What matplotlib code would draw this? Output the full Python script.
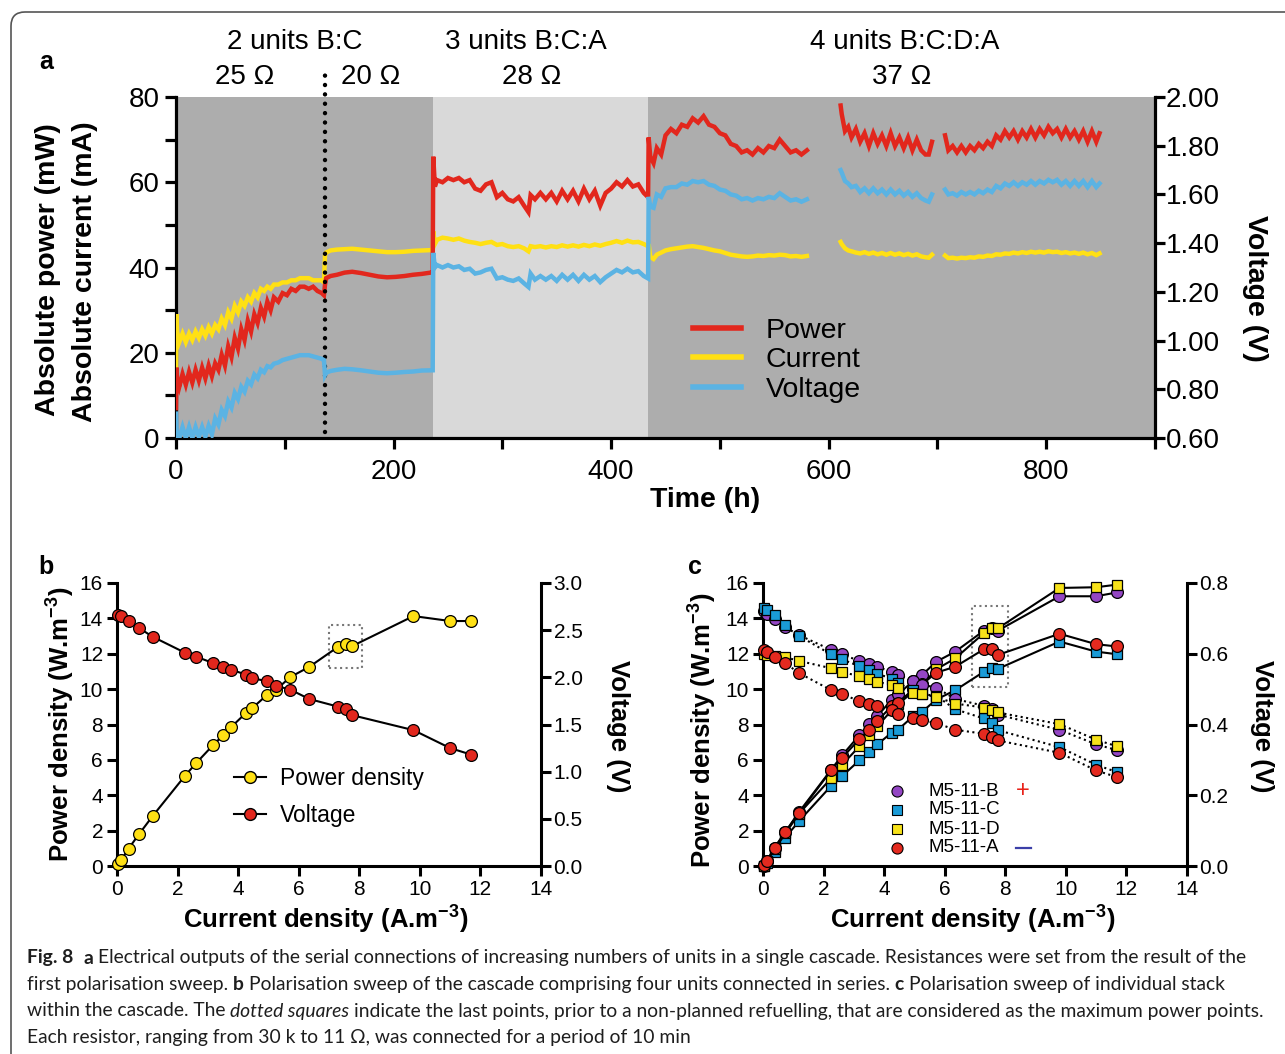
import matplotlib

matplotlib.use("Agg")
import matplotlib.pyplot as plt
import numpy as np
from matplotlib import font_manager
from matplotlib.lines import Line2D
from matplotlib.patches import FancyBboxPatch, Rectangle

# ---------------- panel a: cascade time series ----------------
# time (h); power (mW), current (mA) on left axis; voltage (V) on right axis
t_a = [0, 0.5, 1, 3, 6, 9, 12, 15, 18, 21, 24, 27, 30, 33, 36, 39, 42, 45, 48, 51, 54, 57, 60,
       63, 66, 69, 72, 75, 78, 81, 84, 87, 90, 94, 98, 102, 106, 110, 114, 118, 122, 126, 130, 134, 136]
power_a = [7, 16.5, 14, 12, 15, 12.5, 15.5, 13, 16, 13.5, 16.5, 14, 17, 14.5, 17.5, 16, 19.5, 17, 21.5,
           19, 23.5, 21, 25.5, 23, 27.5, 25, 29, 27, 30.5, 28.5, 32, 30, 33, 32, 34, 33.5, 35, 34.5,
           35.5, 35.5, 35, 35.5, 34.5, 34, 33.5]
current_a = [16, 29, 25, 22.5, 24.5, 22.5, 24.5, 23, 25, 23.5, 25.5, 24, 26, 24.5, 26.5, 25.5, 28, 26.5,
             29.5, 28, 31, 29.5, 32, 31, 33, 32, 34, 33, 35, 34.5, 35.5, 35, 36, 36, 36.5, 36.5, 37, 37,
             37.5, 37.5, 37.5, 37, 37, 37, 36.5]
voltage_a = [0.70, 0.635, 0.60, 0.60, 0.645, 0.60, 0.645, 0.60, 0.645, 0.605, 0.645, 0.605, 0.65, 0.615,
             0.68, 0.655, 0.715, 0.69, 0.75, 0.725, 0.785, 0.76, 0.81, 0.79, 0.835, 0.82, 0.86, 0.845,
             0.88, 0.87, 0.895, 0.89, 0.905, 0.91, 0.92, 0.925, 0.93, 0.935, 0.94, 0.94, 0.94, 0.935,
             0.93, 0.925, 0.92]

t_b = [137, 138, 142, 148, 155, 162, 170, 178, 186, 194, 202, 210, 218, 226, 234]
power_b = [36, 37.5, 38, 38.3, 38.8, 39, 38.7, 38.3, 37.9, 37.7, 37.8, 38, 38.3, 38.5, 38.8]
current_b = [43, 43.5, 44, 44.2, 44.3, 44.4, 44.2, 44, 43.8, 43.6, 43.6, 43.7, 43.9, 44, 44.1]
voltage_b = [0.859, 0.868, 0.875, 0.88, 0.884, 0.882, 0.878, 0.873, 0.868, 0.866, 0.868, 0.871, 0.873,
             0.877, 0.878]

t_c = [236, 236.5, 238, 240, 245, 250, 255, 260, 265, 270, 275, 280, 285, 290, 295, 300, 305, 310, 315,
       320, 324, 326, 330, 335, 340, 345, 350, 355, 360, 365, 370, 375, 380, 385, 390, 395, 400, 405,
       410, 415, 420, 425, 430, 434]
power_c = [38.8, 66, 59, 60.5, 60, 61, 60.5, 61, 60, 60.5, 58.5, 58, 59.5, 60, 56.5, 57.5, 56, 55.5, 56.5,
           54.5, 53, 57, 56, 57.5, 56, 57.5, 55.5, 58, 56, 58, 55.5, 58.5, 56, 58, 54.5, 57.5, 58.5, 60,
           59, 60.5, 59, 59.5, 57.5, 56.5]
current_c = [44.1, 48.5, 45.5, 46.5, 47, 46.8, 46.5, 46.8, 46.3, 46, 45.8, 45.5, 45.8, 46, 45.3, 45.5, 45,
             44.8, 45, 44.5, 43.8, 45, 44.8, 45, 44.7, 45, 44.8, 45.2, 44.9, 45.2, 44.9, 45.3, 45, 45.4,
             45.1, 45.5, 45.8, 46.2, 45.8, 46.3, 45.9, 46, 45.5, 45]
voltage_c = [0.878, 1.36, 1.30, 1.31, 1.30, 1.31, 1.30, 1.305, 1.29, 1.295, 1.275, 1.28, 1.29, 1.295,
             1.255, 1.26, 1.25, 1.245, 1.255, 1.235, 1.22, 1.275, 1.25, 1.265, 1.25, 1.265, 1.245, 1.27,
             1.25, 1.27, 1.245, 1.27, 1.25, 1.265, 1.24, 1.26, 1.275, 1.29, 1.28, 1.295, 1.28, 1.285,
             1.265, 1.255]

t_d = [434.5, 436, 439, 442, 446, 450, 455, 460, 465, 470, 475, 480, 485, 490, 495, 500, 505, 510, 515,
       520, 525, 530, 535, 540, 545, 550, 555, 560, 565, 570, 575, 580]
power_d = [70.5, 66, 64.5, 68, 66.5, 71, 72.5, 71.5, 73.5, 73, 75, 74, 75.5, 73.5, 73, 71.5, 71, 69, 68.5,
           67, 67.5, 66.5, 68, 67, 68.5, 68, 70, 68.5, 67, 67.5, 66.5, 67.5]
current_d = [45.5, 42.5, 42, 43, 43.5, 44, 44.3, 44.5, 44.7, 44.9, 45, 44.8, 44.6, 44.3, 44, 43.8, 43.4,
             43, 42.8, 42.6, 42.5, 42.6, 42.8, 42.7, 42.9, 42.8, 43, 42.9, 42.6, 42.7, 42.5, 42.7]
voltage_d = [1.59, 1.55, 1.545, 1.60, 1.59, 1.625, 1.63, 1.63, 1.645, 1.64, 1.655, 1.65, 1.655, 1.64,
             1.635, 1.62, 1.615, 1.60, 1.595, 1.58, 1.585, 1.575, 1.585, 1.58, 1.59, 1.585, 1.605, 1.59,
             1.575, 1.58, 1.57, 1.58]

t_e = [611, 612, 615, 618, 621, 625, 629, 633, 637, 641, 645, 649, 653, 657, 661, 665, 669, 673, 677,
       681, 685, 689, 692, 695]
power_e = [78, 76, 72, 73, 70.5, 72.5, 69.5, 71.5, 68.5, 71.5, 69, 71, 68.5, 71.5, 68.5, 70.5, 68, 70.5,
           67.5, 70, 67.5, 66.5, 66.5, 69.5]
current_e = [46, 45.5, 44.5, 44, 43.8, 43.5, 43.3, 43.6, 43.2, 43.5, 43.1, 43.4, 43, 43.4, 43, 43.3,
             42.9, 43.2, 42.8, 43.1, 42.6, 42.4, 42.3, 43]
voltage_e = [1.70, 1.69, 1.655, 1.645, 1.63, 1.635, 1.61, 1.625, 1.605, 1.625, 1.605, 1.62, 1.60, 1.62,
             1.60, 1.615, 1.595, 1.61, 1.59, 1.605, 1.585, 1.575, 1.57, 1.60]

t_f = [707, 710, 714, 718, 722, 726, 730, 734, 738, 742, 746, 750, 754, 758, 762, 766, 770, 774, 778,
       782, 786, 790, 794, 798, 802, 806, 810, 814, 818, 822, 826, 830, 834, 838, 842, 846, 849]
power_f = [71, 67.5, 68.5, 67, 68.5, 67, 68.5, 67.5, 69, 68, 69.5, 68.5, 71, 70, 72, 70.5, 72, 70, 72,
           70.5, 72.5, 70.5, 72.5, 71, 73, 71.5, 72.5, 70.5, 72.5, 70.5, 72, 70, 72, 69.5, 72, 69.5, 71.5]
current_f = [42.8, 42.2, 42.3, 42.1, 42.3, 42.2, 42.4, 42.3, 42.6, 42.5, 42.8, 42.7, 43.1, 43, 43.3,
             43.2, 43.5, 43.3, 43.6, 43.4, 43.7, 43.5, 43.7, 43.5, 43.8, 43.6, 43.7, 43.4, 43.6, 43.3,
             43.5, 43.2, 43.5, 43.1, 43.4, 42.9, 43.3]
voltage_f = [1.62, 1.60, 1.605, 1.595, 1.61, 1.60, 1.61, 1.60, 1.615, 1.605, 1.62, 1.61, 1.635, 1.625,
             1.645, 1.635, 1.65, 1.635, 1.65, 1.64, 1.655, 1.64, 1.655, 1.645, 1.66, 1.65, 1.66, 1.64,
             1.655, 1.635, 1.655, 1.635, 1.655, 1.63, 1.655, 1.63, 1.645]

# shaded phases (h) and the resistor change
phase_edges = [0, 236, 434, 900]
resistor_switch = 136.6

# ---------------- panels b and c: polarisation sweeps ----------------
current_density = [0.03, 0.13, 0.38, 0.74, 1.18, 2.25, 2.61, 3.18, 3.50, 3.78, 4.25, 4.46, 4.96, 5.25,
                   5.72, 6.35, 7.29, 7.56, 7.75, 9.79, 11.0, 11.7]
cascade_power = [0.09, 0.32, 0.98, 1.83, 2.83, 5.11, 5.81, 6.85, 7.38, 7.87, 8.64, 8.92, 9.68, 9.96,
                 10.68, 11.26, 12.38, 12.57, 12.42, 14.13, 13.85, 13.85]
cascade_voltage = [2.66, 2.65, 2.60, 2.52, 2.43, 2.26, 2.22, 2.15, 2.11, 2.08, 2.03, 1.99, 1.96, 1.91,
                   1.87, 1.77, 1.69, 1.66, 1.60, 1.44, 1.25, 1.18]

stack_names = ["M5-11-B", "M5-11-C", "M5-11-D", "M5-11-A"]
stack_power = {
    "M5-11-B": [0.0, 0.28, 1.04, 1.93, 3.03, 5.44, 6.25, 7.39, 8.01, 8.48, 9.41, 9.72, 10.45, 10.8, 11.55,
                12.12, 13.3, 13.45, 13.3, 15.25, 15.25, 15.47],
    "M5-11-C": [0.0, 0.19, 0.81, 1.61, 2.52, 4.53, 5.08, 5.97, 6.44, 6.88, 7.54, 7.71, 8.47, 8.71, 9.41,
                9.94, 10.98, 11.17, 11.14, 12.69, 12.12, 11.97],
    "M5-11-D": [0.0, 0.28, 0.95, 1.84, 2.94, 4.96, 5.72, 6.76, 7.39, 7.9, 8.81, 9.15, 9.85, 10.23, 11.12,
                11.74, 13.16, 13.48, 13.43, 15.72, 15.76, 15.91],
    "M5-11-A": [0.04, 0.28, 1.0, 1.93, 2.97, 5.4, 6.12, 7.16, 7.71, 8.2, 9.05, 9.24, 9.98, 10.27, 10.93,
                11.27, 12.25, 12.25, 11.93, 13.13, 12.54, 12.41],
}
stack_voltage = {
    "M5-11-B": [0.72, 0.713, 0.699, 0.675, 0.653, 0.611, 0.598, 0.58, 0.571, 0.563, 0.549, 0.54, 0.524,
                0.513, 0.504, 0.472, 0.453, 0.443, 0.428, 0.385, 0.344, 0.327],
    "M5-11-C": [0.729, 0.724, 0.71, 0.682, 0.651, 0.598, 0.584, 0.565, 0.554, 0.543, 0.53, 0.516, 0.497,
                0.486, 0.481, 0.443, 0.417, 0.404, 0.384, 0.336, 0.286, 0.265],
    "M5-11-D": [0.599, 0.597, 0.594, 0.59, 0.58, 0.559, 0.548, 0.537, 0.528, 0.521, 0.511, 0.504, 0.49,
                0.486, 0.478, 0.459, 0.448, 0.44, 0.434, 0.401, 0.357, 0.338],
    "M5-11-A": [0.611, 0.606, 0.592, 0.573, 0.546, 0.497, 0.485, 0.467, 0.457, 0.452, 0.44, 0.431, 0.417,
                0.412, 0.404, 0.385, 0.374, 0.366, 0.355, 0.32, 0.27, 0.251],
}

# ---------------- styling ----------------
RED = "#e2271d"
YELLOW = "#ffe014"
BLUE = "#5bb3e3"
DARK_BG = "#adadad"
LIGHT_BG = "#d9d9d9"
stack_style = {
    "M5-11-B": dict(marker="o", mfc="#9446c4", ms=8.5),
    "M5-11-C": dict(marker="s", mfc="#1a9bd7", ms=7.5),
    "M5-11-D": dict(marker="s", mfc="#f7e21a", ms=7.5),
    "M5-11-A": dict(marker="o", mfc="#e42a1f", ms=8.5),
}


def pick_caption_font():
    for fam in ["Lato", "Open Sans", "Noto Sans"]:
        weights = [f.weight for f in font_manager.fontManager.ttflist if f.name == fam]
        heavy = [w for w in weights if (w if isinstance(w, int) else 400) >= 600 or w == "bold"]
        if weights and heavy:
            return fam
    return "DejaVu Sans"


CAP_FONT = pick_caption_font()

plt.rcParams["font.family"] = ["Liberation Sans", "DejaVu Sans"]
plt.rcParams["mathtext.fontset"] = "custom"
plt.rcParams["mathtext.rm"] = "Liberation Sans"
plt.rcParams["mathtext.sf"] = "Liberation Sans:bold"

W, H = 1285, 1054
fig = plt.figure(figsize=(W / 100, H / 100), dpi=100)


def fx(px):
    return px / W


def fy(py):
    return 1 - py / H


def style_spines(ax, visible, lw=2.3):
    for side, sp in ax.spines.items():
        sp.set_visible(side in visible)
        sp.set_linewidth(lw)


# ---------------- panel a ----------------
ax = fig.add_axes([fx(176), fy(438), (1155 - 176) / W, (438 - 97) / H])
ax2 = ax.twinx()
ax.set_xlim(0, 900)
ax.set_ylim(0, 80)
ax2.set_ylim(0.6, 2.0)
bg_colors = [DARK_BG, LIGHT_BG, DARK_BG]
for i, c in enumerate(bg_colors):
    ax.axvspan(phase_edges[i], phase_edges[i + 1], color=c, lw=0, zorder=0)

runs = [
    (t_a + t_b + t_c + t_d, power_a + power_b + power_c + power_d,
     current_a + current_b + current_c + current_d, voltage_a + voltage_b + voltage_c + voltage_d),
    (t_e, power_e, current_e, voltage_e),
    (t_f, power_f, current_f, voltage_f),
]
for t, p, cur, v in runs:
    ax.plot(t, cur, color=YELLOW, lw=3.2, zorder=3, solid_joinstyle="miter")
    ax.plot(t, p, color=RED, lw=3.2, zorder=3, solid_joinstyle="miter")
    ax2.plot(t, v, color=BLUE, lw=3.2, zorder=3, solid_joinstyle="miter")

ax.plot([resistor_switch, resistor_switch], [1.4, 86.3], color="black", lw=3.2,
        ls=(0, (0.01, 2.1)), dash_capstyle="round", clip_on=False, zorder=6)

style_spines(ax, ["left", "bottom"])
style_spines(ax2, ["right"])
ax.set_yticks([0, 20, 40, 60, 80])
ax.set_yticks([10, 30, 50, 70], minor=True)
ax.set_xticks([0, 200, 400, 600, 800])
ax.set_xticks([100, 300, 500, 700, 900], minor=True)
ax.tick_params(which="both", direction="out", length=8, width=2.3, labelsize=20)
ax.tick_params(axis="y", pad=4)
ax.tick_params(axis="x", pad=7)
ax2.set_yticks(np.arange(0.6, 2.01, 0.2))
ax2.set_yticklabels([f"{v:.2f}" for v in np.arange(0.6, 2.01, 0.2)])
ax2.tick_params(direction="out", length=7, width=2.3, labelsize=20, pad=1)

leg_handles = [Line2D([], [], color=c, lw=4) for c in (RED, YELLOW, BLUE)]
ax.legend(leg_handles, ["Power", "Current", "Voltage"], loc="upper left",
          bbox_to_anchor=(fx(693), fy(318)), bbox_transform=fig.transFigure, frameon=False,
          fontsize=20.5, handlelength=1.7, handletextpad=0.85, labelspacing=0.12,
          borderpad=0, borderaxespad=0)

fig.text(fx(48), fy(270), "Absolute power (mW)", rotation=90, ha="center", va="center",
         fontsize=20.5, fontweight="bold")
fig.text(fx(85), fy(272), "Absolute current (mA)", rotation=90, ha="center", va="center",
         fontsize=20.5, fontweight="bold")
fig.text(fx(1255), fy(288), "Voltage (V)", rotation=-90, ha="center", va="center",
         fontsize=20.5, fontweight="bold")
fig.text(fx(705), fy(500), "Time (h)", ha="center", va="center", fontsize=20.5, fontweight="bold")
fig.text(fx(46), fy(62), "a", ha="center", va="center", fontsize=18, fontweight="bold")

for label, xc in [("2 units B:C", 295), ("3 units B:C:A", 526), ("4 units B:C:D:A", 905)]:
    fig.text(fx(xc), fy(42), label, ha="center", va="center", fontsize=20)
for label, xc in [("25 \u03a9", 245), ("20 \u03a9", 371), ("28 \u03a9", 532), ("37 \u03a9", 902)]:
    fig.text(fx(xc), fy(77), label, ha="center", va="center", fontsize=20)


# ---------------- panels b, c common ----------------
def sweep_axes(left_px, vmax, vstep, vfmt):
    a = fig.add_axes([fx(left_px), fy(866), 424 / W, 283 / H])
    b = a.twinx()
    a.set_xlim(0, 14)
    a.set_ylim(0, 16)
    b.set_ylim(0, vmax)
    a.set_xticks(range(0, 15, 2))
    a.set_yticks(range(0, 17, 2))
    ticks = np.arange(0, vmax + 1e-9, vstep)
    b.set_yticks(ticks)
    b.set_yticklabels([vfmt.format(v) for v in ticks])
    style_spines(a, ["left", "bottom"], lw=2.2)
    style_spines(b, ["right"], lw=2.2)
    a.tick_params(direction="out", length=7, width=2.2, labelsize=15, pad=3)
    b.tick_params(direction="out", length=7, width=2.2, labelsize=15, pad=2)
    return a, b


ylab = r"Power density (W.m$^{\mathsf{-3}}$)"
xlab = r"Current density (A.m$^{\mathsf{-3}}$)"

# ---------------- panel b ----------------
axb, axb2 = sweep_axes(117, 3.0, 0.5, "{:.1f}")
axb.plot(current_density, cascade_power, color="black", lw=1.5, marker="o", mfc=YELLOW, mec="black",
         mew=0.9, ms=8.5, clip_on=False, zorder=3)
axb2.plot(current_density, cascade_voltage, color="black", lw=1.5, marker="o", mfc=RED, mec="black",
          mew=0.9, ms=8.5, clip_on=False, zorder=3)
axb.add_patch(Rectangle((7.0, 11.2), 1.1, 2.4, fill=False, ls=":", ec="#777777", lw=1.5))
hb = [Line2D([], [], color="black", lw=1.5, marker="o", mfc=c, mec="black", ms=8.5) for c in (YELLOW, RED)]
axb.legend(hb, ["Power density", "Voltage"], loc="upper left", bbox_to_anchor=(fx(234), fy(767)),
           bbox_transform=fig.transFigure, frameon=False, fontsize=16.5, handlelength=1.4,
           handletextpad=0.6, labelspacing=0.62, borderpad=0, borderaxespad=0)
fig.text(fx(60), fy(724), ylab, rotation=90, ha="center", va="center", fontsize=18.5, fontweight="bold")
fig.text(fx(326), fy(919), xlab, ha="center", va="center", fontsize=18.5, fontweight="bold")
fig.text(fx(618), fy(726), "Voltage (V)", rotation=-90, ha="center", va="center", fontsize=18.5,
         fontweight="bold")
fig.text(fx(46), fy(567), "b", ha="center", va="center", fontsize=18, fontweight="bold")

# ---------------- panel c ----------------
axc, axc2 = sweep_axes(763, 0.8, 0.2, "{:.1f}")
for name in stack_names:
    st = stack_style[name]
    axc2.plot(current_density, stack_voltage[name], color="black", lw=1.5, ls=":", mec="black", mew=0.9,
              clip_on=False, zorder=3, **st)
for name in stack_names:
    st = stack_style[name]
    axc.plot(current_density, stack_power[name], color="black", lw=1.5, mec="black", mew=0.9,
             clip_on=False, zorder=3, **st)
axc.add_patch(Rectangle((6.9, 10.1), 1.2, 4.6, fill=False, ls=":", ec="#777777", lw=1.5))
fig.text(fx(702), fy(730), ylab, rotation=90, ha="center", va="center", fontsize=18.5, fontweight="bold")
fig.text(fx(973), fy(919), xlab, ha="center", va="center", fontsize=18.5, fontweight="bold")
fig.text(fx(1262), fy(726), "Voltage (V)", rotation=-90, ha="center", va="center", fontsize=18.5,
         fontweight="bold")
fig.text(fx(695), fy(567), "c", ha="center", va="center", fontsize=18, fontweight="bold")

for i, name in enumerate(stack_names):
    yp = 791 + 19 * i
    st = dict(stack_style[name])
    st["ms"] = st["ms"] - 0.5
    fig.add_artist(Line2D([fx(897)], [fy(yp)], ls="none", mec="black", mew=0.8,
                          transform=fig.transFigure, **st))
    fig.text(fx(928), fy(yp), name, ha="left", va="center", fontsize=13.5)
fig.text(fx(1023), fy(791), "+", ha="center", va="center", fontsize=17, color="#e8221a")
fig.add_artist(Line2D([fx(1016), fx(1031)], [fy(848), fy(848)], color="#3b3fa8", lw=1.6,
                      transform=fig.transFigure))

# ---------------- caption (mixed weights, laid out piece by piece) ----------------
caption = [
    [("Fig. 8", "bold", 2), ("a", "bold", 1),
     ("Electrical outputs of the serial connections of increasing numbers of units in a single cascade. "
      "Resistances were set from the result of the", "normal", 0)],
    [("first polarisation sweep.", "normal", 1), ("b", "bold", 1),
     ("Polarisation sweep of the cascade comprising four units connected in series.", "normal", 1),
     ("c", "bold", 1), ("Polarisation sweep of individual stack", "normal", 0)],
    [("within the cascade. The", "normal", 1), ("dotted squares", "italic", 1),
     ("indicate the last points, prior to a non-planned refuelling, that are considered as the maximum "
      "power points.", "normal", 0)],
    [("Each resistor, ranging from 30 k to 11 \u03a9, was connected for a period of 10 min", "normal", 0)],
]
CAP_SIZE = 13.9
renderer = fig.canvas.get_renderer()
probe1 = fig.text(0, 0, "x x", fontsize=CAP_SIZE, family=[CAP_FONT, "DejaVu Sans"])
probe2 = fig.text(0, 0, "xx", fontsize=CAP_SIZE, family=[CAP_FONT, "DejaVu Sans"])
space_px = probe1.get_window_extent(renderer).width - probe2.get_window_extent(renderer).width
probe1.remove()
probe2.remove()
for i, pieces in enumerate(caption):
    x = 27.0
    for text, style, gaps in pieces:
        kw = dict(fontsize=CAP_SIZE, family=[CAP_FONT, "DejaVu Sans"], color="#1e1e1e",
                  ha="left", va="center")
        if style == "bold":
            kw["fontweight"] = "bold"
        elif style == "italic":
            kw["fontstyle"] = "italic"
        t = fig.text(fx(x), fy(958 + 26.5 * i), text, **kw)
        x = t.get_window_extent(renderer).x1 + gaps * space_px

frame = FancyBboxPatch((11, -16), 1300, 1058, boxstyle="round,pad=0,rounding_size=14",
                       transform=None, fill=False, ec="#555555", lw=1.2)
fig.add_artist(frame)

fig.savefig("out.png", dpi=100)
